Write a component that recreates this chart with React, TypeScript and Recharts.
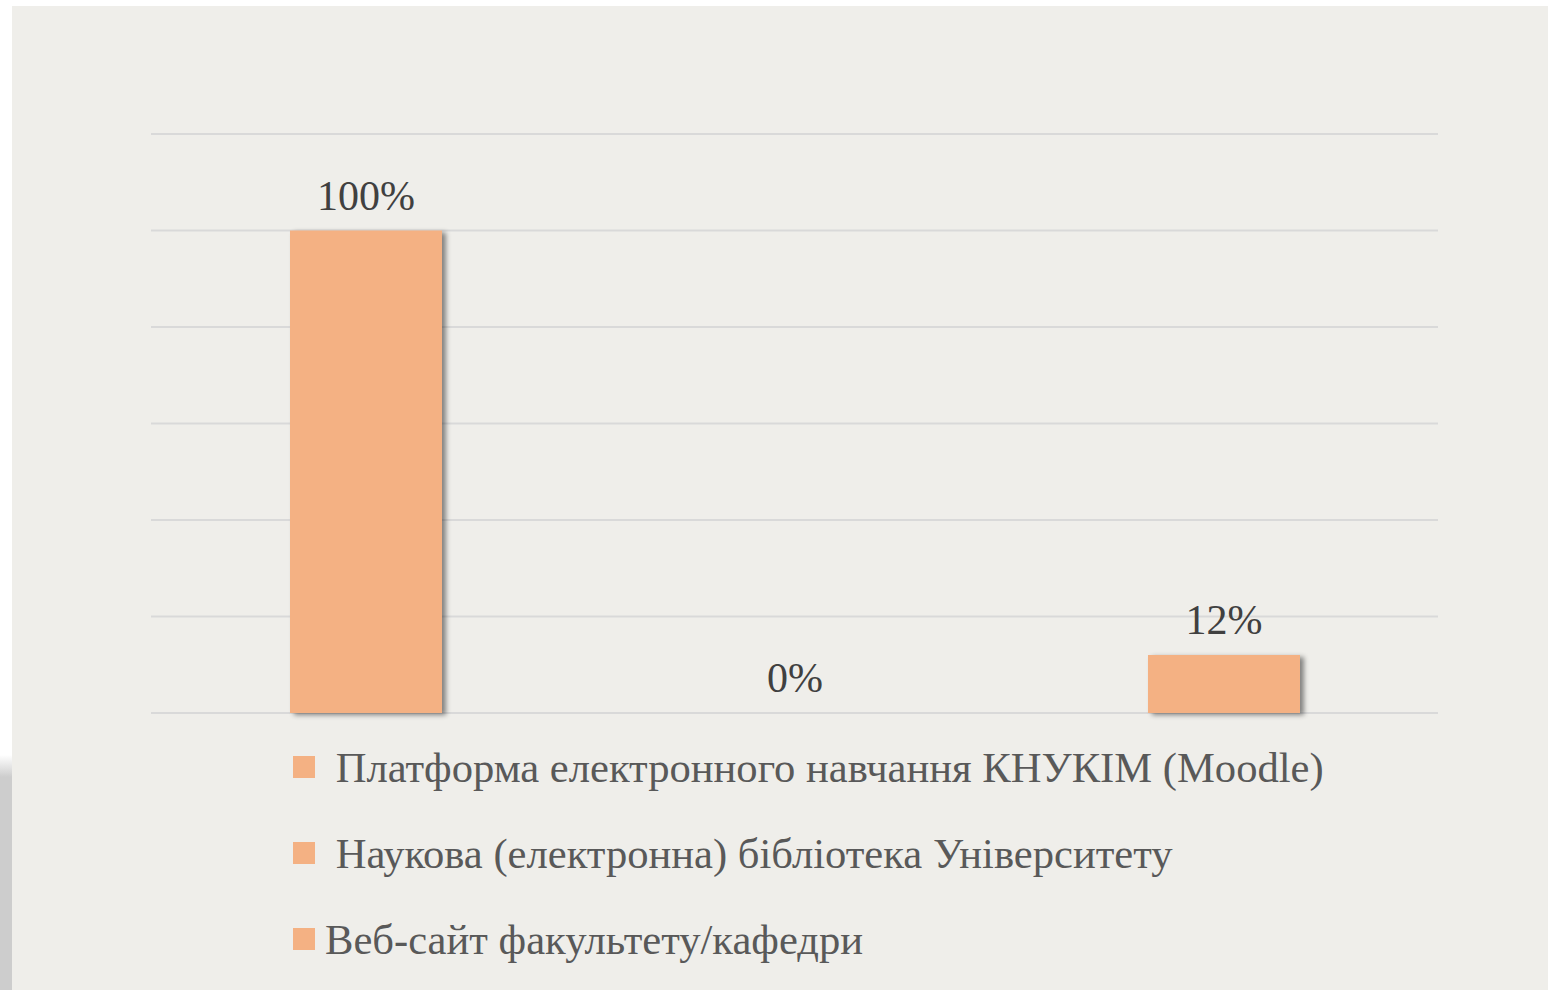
import React from 'react';
import { BarChart, Bar, XAxis, YAxis, CartesianGrid, Cell } from 'recharts';

const categories = [
  ' Платформа електронного навчання КНУКІМ (Moodle)',
  ' Наукова (електронна) бібліотека Університету',
  'Веб-сайт факультету/кафедри',
];
const shares = [100, 0, 12];
const yTicks = [0, 20, 40, 60, 80, 100, 120];

const data = categories.map((name, i) => ({ name, value: shares[i] }));

const BAR_COLOR = '#F4B183';
const FONT = '"Liberation Serif", "Times New Roman", serif';

const renderValueLabel = (props: any) => {
  const { x, y, width, height, value } = props;
  // zero bars are drawn 1px tall so the label still shows; measure from the baseline
  const top = value === 0 ? Number(y) + Number(height) : Number(y);
  return (
    <text
      x={Number(x) + Number(width) / 2}
      y={top - 21}
      textAnchor="middle"
      fill="#404040"
      fontSize={42}
      fontFamily={FONT}
    >
      {`${value}%`}
    </text>
  );
};

const App: React.FC = () => {
  return (
    <div style={{ position: 'absolute', left: 0, top: 0, width: 1560, height: 990, background: '#ffffff', overflow: 'hidden' }}>
      {/* page shadow on the left edge */}
      <div
        style={{
          position: 'absolute',
          left: 0,
          top: 755,
          width: 14,
          height: 235,
          background: 'linear-gradient(to bottom, rgba(204,204,204,0) 0px, #cdcdcd 22px, #cdcdcd 100%)',
        }}
      />
      <div style={{ position: 'absolute', left: 12, top: 6, width: 1536, height: 984, background: '#EFEEEA' }}>
        <BarChart
          width={1536}
          height={984}
          data={data}
          margin={{ top: 128, right: 110, bottom: 277, left: 139 }}
        >
          <defs>
            <filter id="barShadow" x="-10%" y="-10%" width="130%" height="130%">
              <feDropShadow dx="4" dy="2" stdDeviation="2.5" floodColor="#000000" floodOpacity="0.45" />
            </filter>
          </defs>
          <CartesianGrid vertical={false} stroke="#D9D9D9" strokeWidth={2} />
          <XAxis dataKey="name" hide />
          <YAxis hide domain={[0, 120]} ticks={yTicks} />
          <Bar dataKey="value" barSize={152} minPointSize={1} isAnimationActive={false} label={renderValueLabel}>
            {data.map((d, i) => (
              <Cell
                key={`cell-${i}`}
                fill={d.value === 0 ? 'transparent' : BAR_COLOR}
                filter={d.value === 0 ? undefined : 'url(#barShadow)'}
              />
            ))}
          </Bar>
        </BarChart>
        <div style={{ position: 'absolute', left: 281, top: 718, fontFamily: FONT }}>
          {categories.map((name) => (
            <div key={name} style={{ height: 86, display: 'flex', alignItems: 'center' }}>
              <span style={{ display: 'inline-block', width: 22, height: 22, background: BAR_COLOR, marginRight: 10 }} />
              <span style={{ fontSize: 42.6, color: '#595959', whiteSpace: 'pre' }}>{name}</span>
            </div>
          ))}
        </div>
      </div>
    </div>
  );
};

export default App;
